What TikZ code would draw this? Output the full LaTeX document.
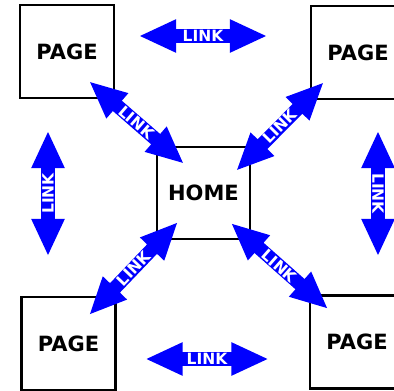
\documentclass[tikz,border=0pt]{standalone}
\usepackage{fontspec}
\setmainfont{DejaVu Sans}
\usetikzlibrary{shapes.arrows}
\begin{document}
\begin{tikzpicture}[x=1pt,y=-1pt,
  pagebox/.style={draw=black, line width=2.6pt, minimum width=94pt, minimum height=93pt,
    inner sep=0pt, font=\fontsize{21}{21}\selectfont\bfseries},
  linkarrow/.style={double arrow, fill=blue, draw=none, text=white,
    font=\fontsize{15.5}{15.5}\selectfont\bfseries, inner xsep=2pt, inner ysep=1pt,
    minimum height=124pt, minimum width=33pt, double arrow head extend=10pt,
    double arrow tip angle=50}]
\useasboundingbox (0,0) rectangle (394,391);
\clip (0,0) rectangle (394,391);
% boxes
\node[pagebox] (pTL) at (67,51.5) {PAGE};
\node[pagebox] (pTR) at (358,52.5) {PAGE};
\node[pagebox] (pBL) at (68.5,343.5) {PAGE};
\node[pagebox] (pBR) at (357,342) {PAGE};
\node[pagebox, minimum width=93pt, minimum height=92pt] (home) at (203.5,193) {HOME};
% arrows
\node[linkarrow, minimum height=126pt] (aTop) at (203,36) {LINK};
\node[linkarrow, minimum height=121pt] (aBot) at (207,359) {LINK};
\node[linkarrow, minimum height=123pt, rotate=90] (aLeft) at (48,193.5) {LINK};
\node[linkarrow, minimum height=123pt, rotate=-90] (aRight) at (378,193.5) {LINK};
\node[linkarrow, minimum height=123pt, rotate=-41] (aTL) at (136.5,122.5) {LINK};
\node[linkarrow, minimum height=122pt, rotate=45.3] (aTR) at (280,126.5) {LINK};
\node[linkarrow, minimum height=126pt, rotate=46.3] (aBL) at (133.5,268.5) {LINK};
\node[linkarrow, minimum height=127pt, rotate=-41.5] (aBR) at (279.5,266) {LINK};
\end{tikzpicture}
\end{document}
